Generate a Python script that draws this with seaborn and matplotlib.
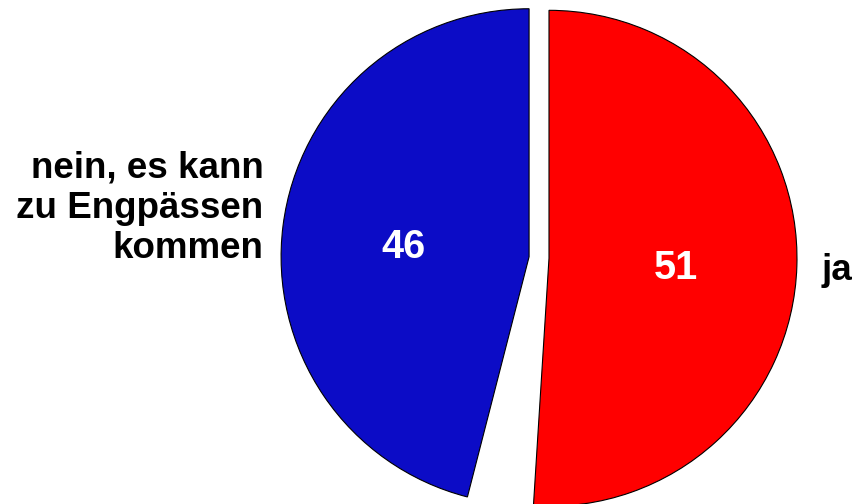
import matplotlib
matplotlib.use("Agg")
import matplotlib.pyplot as plt
import seaborn as sns

sns.set_theme(style="white")
plt.rcParams['font.family'] = ['Liberation Sans', 'DejaVu Sans']

categories = ["ja", "", "nein, es kann\nzu Engpässen\nkommen"]
values = [51, 3, 46]
colors = ["#ff0000", "white", "#0c0cc6"]
explode = [10, 0, 10]

fig = plt.figure(figsize=(8.55, 5.04), dpi=100)
ax = fig.add_axes([0, 0, 1, 1])
wedges, texts, autotexts = ax.pie(
    values, labels=categories, colors=colors, startangle=90, counterclock=False,
    explode=explode, center=(539, 246), radius=248,
    autopct=lambda p: f"{p:.0f}" if p > 5 else "",
    pctdistance=0.51, labeldistance=1.1,
    wedgeprops=dict(edgecolor="black", linewidth=0.8),
    textprops=dict(fontsize=26.5, fontweight="bold", color="black"),
)
wedges[1].set_visible(False)
for t in autotexts:
    t.set_color("white")
    t.set_fontsize(28.5)
    t.set_fontweight("bold")
    px, py = t.get_position()
    t.set_position((px, py - 6))
x, y = texts[2].get_position()
texts[2].set_position((x + 5, y + 14))
texts[2].set_horizontalalignment("right")
texts[2].set_multialignment("right")
texts[0].set_horizontalalignment("left")
x0, y0 = texts[0].get_position()
texts[0].set_position((x0, y0 - 4))

ax.set_xlim(0, 855)
ax.set_ylim(0, 504)
ax.set_aspect("equal")
ax.axis("off")
fig.savefig("out.png", dpi=100)
